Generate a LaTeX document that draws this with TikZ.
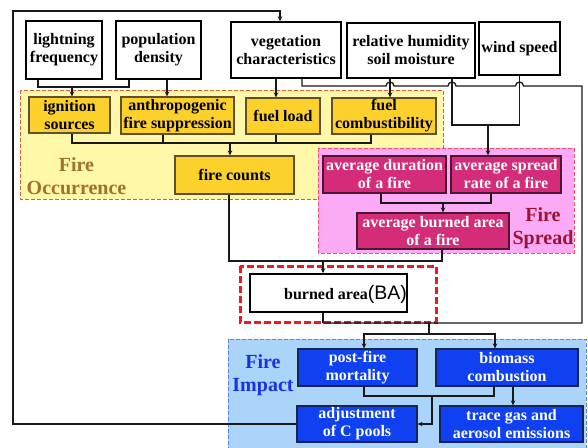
\documentclass[tikz,border=0pt]{standalone}
\usepackage{fontspec}
\setmainfont{Liberation Serif}
\setsansfont{Liberation Sans}
\usetikzlibrary{arrows.meta}

\definecolor{occfill}{HTML}{FFF8A8}
\definecolor{occline}{HTML}{D0603A}
\definecolor{occtext}{HTML}{A0702E}
\definecolor{ybfill}{HTML}{FDD12C}
\definecolor{ybline}{HTML}{5E5030}
\definecolor{sprfill}{HTML}{FDAAF6}
\definecolor{sprline}{HTML}{F0506A}
\definecolor{sprtext}{HTML}{9A1434}
\definecolor{mbfill}{HTML}{D42C78}
\definecolor{mbline}{HTML}{4A1832}
\definecolor{impfill}{HTML}{AAD4FA}
\definecolor{impline}{HTML}{5A80EE}
\definecolor{imptext}{HTML}{1A30E6}
\definecolor{bbfill}{HTML}{0F40F2}
\definecolor{bbline}{HTML}{1A2450}
\definecolor{bared}{HTML}{F01820}

\tikzset{
  sz/.style 2 args={minimum width=#1pt, minimum height=#2pt},
  boxbase/.style={align=center, inner sep=0pt,
    font=\bfseries\fontsize{16}{18}\selectfont},
  wbox/.style={boxbase, draw=black, fill=white, line width=1.6pt},
  ybox/.style={boxbase, draw=ybline, fill=ybfill, line width=1.1pt},
  mbox/.style={boxbase, draw=mbline, fill=mbfill, text=white, line width=1.1pt},
  bbox/.style={boxbase, draw=bbline, fill=bbfill, text=white, line width=1.1pt},
  zone/.style={line width=0.9pt, dash pattern=on 4pt off 2pt},
  zonelabel/.style={align=center, inner sep=0pt,
    font=\bfseries\fontsize{20}{23}\selectfont},
  conn/.style={draw=black!90, line width=1.3pt},
  arr/.style={conn, -{Stealth[length=5pt,width=4.5pt]}},
}

\begin{document}
\begin{tikzpicture}[x=1pt,y=-1pt]
\useasboundingbox (0,0) rectangle (588,447);

% ---- background zones ----
\filldraw[zone, fill=occfill, draw=occline] (20,90) rectangle (443,199);
\filldraw[zone, fill=sprfill, draw=sprline] (318,148) rectangle (574,253);
\filldraw[zone, fill=impfill, draw=impline] (228,339) rectangle (586,452);
\draw[bared, line width=3pt, dash pattern=on 7pt off 3pt] (240,266) rectangle (436,322);

\node[zonelabel, text=occtext] (occlab) at (76.5,176.5) {Fire\\Occurrence};
\node[zonelabel, text=sprtext] (sprlab) at (543,228) {Fire\\Spread};
\node[zonelabel, text=imptext] (implab) at (263,375) {Fire\\Impact};

% ---- drivers ----
\node[wbox, sz={76}{58}]  (lf)  at (64,50)     {lightning\\frequency};
\node[wbox, sz={85}{58}]  (pd)  at (158.5,50)  {population\\density};
\node[wbox, sz={110}{56}] (veg) at (286,50)    {vegetation\\characteristics};
\node[wbox, sz={128}{55}] (rh)  at (411,50.5)  {relative humidity\\soil moisture};
\node[wbox, sz={81}{53}]  (ws)  at (519.5,48.5) {wind speed};

% ---- fire occurrence ----
\node[ybox, sz={81}{36}]  (ign)  at (69.5,115)  {ignition\\sources};
\node[ybox, sz={113}{37}] (anth) at (177.5,115.5) {anthropogenic\\fire suppression};
\node[ybox, sz={74}{36}]  (fl)   at (283,116)   {fuel load};
\node[ybox, sz={104}{36}] (fc)   at (384,116)   {fuel\\combustibility};
\node[ybox, sz={119}{38}] (cnt)  at (234.5,175) {fire counts};

% ---- fire spread ----
\node[mbox, sz={123}{37}] (dur) at (384.5,174.5) {average duration\\of a fire};
\node[mbox, sz={110}{37}] (spr) at (506,174.5)   {average spread\\rate of a fire};
\node[mbox, sz={152}{36}] (abf) at (433,231)     {average burned area\\of a fire};

% ---- burned area ----
\node[wbox, sz={157}{38}] (ba) at (328.5,293) {};
\node[inner sep=0pt, anchor=base] (batext) at (345.5,299)
  {\bfseries\fontsize{16}{18}\selectfont burned area%
   \sffamily\mdseries\fontsize{19.5}{20}\selectfont(BA)};

% ---- fire impact ----
\node[bbox, sz={119}{37}] (pfm) at (357.5,367.5) {post-fire\\mortality};
\node[bbox, sz={142}{37}] (bio) at (507,367.5)   {biomass\\combustion};
\node[bbox, sz={120}{36}] (adj) at (357,424)     {adjustment\\of C pools};
\node[bbox, sz={143}{36}] (tga) at (511.5,424)   {trace gas and\\aerosol emissions};

% ---- attachment points ----
\coordinate (lfo)  at ([xshift=-26pt]lf.south);
\coordinate (pdo1) at ([xshift=-29.5pt]pd.south);
\coordinate (pdo2) at ([xshift=8.5pt]pd.south);
\coordinate (vego1) at ([xshift=-10pt]veg.south);
\coordinate (vego2) at ([xshift=16pt]veg.south);
\coordinate (vegi) at ([xshift=-6pt]veg.north);
\coordinate (rho1) at ([xshift=-21pt]rh.south);
\coordinate (rho2) at ([xshift=41pt]rh.south);
\coordinate (igno) at ([xshift=2.5pt]ign.south);
\coordinate (antho) at ([xshift=-14.5pt]anth.south);
\coordinate (flo) at ([xshift=-7pt]fl.south);
\coordinate (fco) at ([xshift=-13pt]fc.south);
\coordinate (cnto) at ([xshift=-5.5pt]cnt.south);
\coordinate (duro) at ([xshift=-3.5pt]dur.south);
\coordinate (spro) at ([xshift=-15pt]spr.south);
\coordinate (abfo) at ([xshift=9pt]abf.south);
\coordinate (bai) at ([xshift=-5.5pt]ba.north);
\coordinate (bao) at ([xshift=-5.5pt]ba.south);
\coordinate (pfi) at ([xshift=6.5pt]pfm.north);
\coordinate (bioi) at ([xshift=-12pt]bio.north);
\coordinate (pfmo) at ([xshift=6.5pt]pfm.south);
\coordinate (bioo) at ([xshift=-13pt]bio.south);
\coordinate (bioo2) at ([xshift=6pt]bio.south);

% junctions
\coordinate (j1) at (72,87);
\coordinate (bus) at (582,86);
\coordinate (h1) at (rho1 |- bus);
\coordinate (h2) at (rho2 |- bus);
\coordinate (h3) at (ws.south |- bus);
\coordinate (m1) at (323,323);
\coordinate (s1) at (429,323);
\coordinate (s2) at (429,334);
\coordinate (m2) at (323,261);
\coordinate (m3) at (443,203);
\coordinate (m4) at (488,125);
\coordinate (m5) at (230,143);
\coordinate (m6) at (432,396);
\coordinate (loop) at (13,11);

% ---- connectors ----
\draw[conn] (lfo) |- (j1) -| (pdo1);
\draw[arr] (j1) -- (j1 |- ign.north);
\draw[arr] (pdo2) -- (pdo2 |- anth.north);
\draw[arr] (vego1) -- (vego1 |- fl.north);
\draw[arr] (rho1) -- (rho1 |- fc.north);

% vegetation bus with hops, down to the burned-area output
\draw[conn] (vego2) |- ([xshift=-4pt]h1)
  arc[start angle=180, end angle=0, radius=4pt] -- ([xshift=-4pt]h2)
  arc[start angle=180, end angle=0, radius=4pt] -- ([xshift=-4pt]h3)
  arc[start angle=180, end angle=0, radius=4pt] -- (bus) |- (m1);
\draw[conn] (bao) -- (m1);

% climate to spread rate
\draw[conn] (rho2) |- (m4) -| (ws.south);
\draw[arr] (m4) -- (m4 |- spr.north);

% occurrence factors to fire counts
\draw[conn] (igno) |- (m5) -| (fco);
\draw[conn] (antho) -- (antho |- m5);
\draw[conn] (flo) -- (flo |- m5);
\draw[arr] (m5) -- (m5 |- cnt.north);

% spread
\draw[conn] (duro) |- (m3) -| (spro);
\draw[arr] (m3) -- (m3 |- abf.north);

% counts and spread to burned area
\draw[conn] (cnto) |- (m2) -| (abfo);
\draw[arr] (m2) -- (bai);

% burned area to impacts
\draw[conn] (s1) -- (s2);
\draw[arr] (s2) -| (pfi);
\draw[arr] (s2) -| (bioi);
\draw[conn] (pfmo) |- (m6) -| (bioo);
\draw[arr] (m6) |- (adj.east);
\draw[arr] (bioo2) -- (bioo2 |- tga.north);

% feedback to vegetation
\draw[arr] (adj.west) -| (loop) -| (vegi);
\end{tikzpicture}
\end{document}
